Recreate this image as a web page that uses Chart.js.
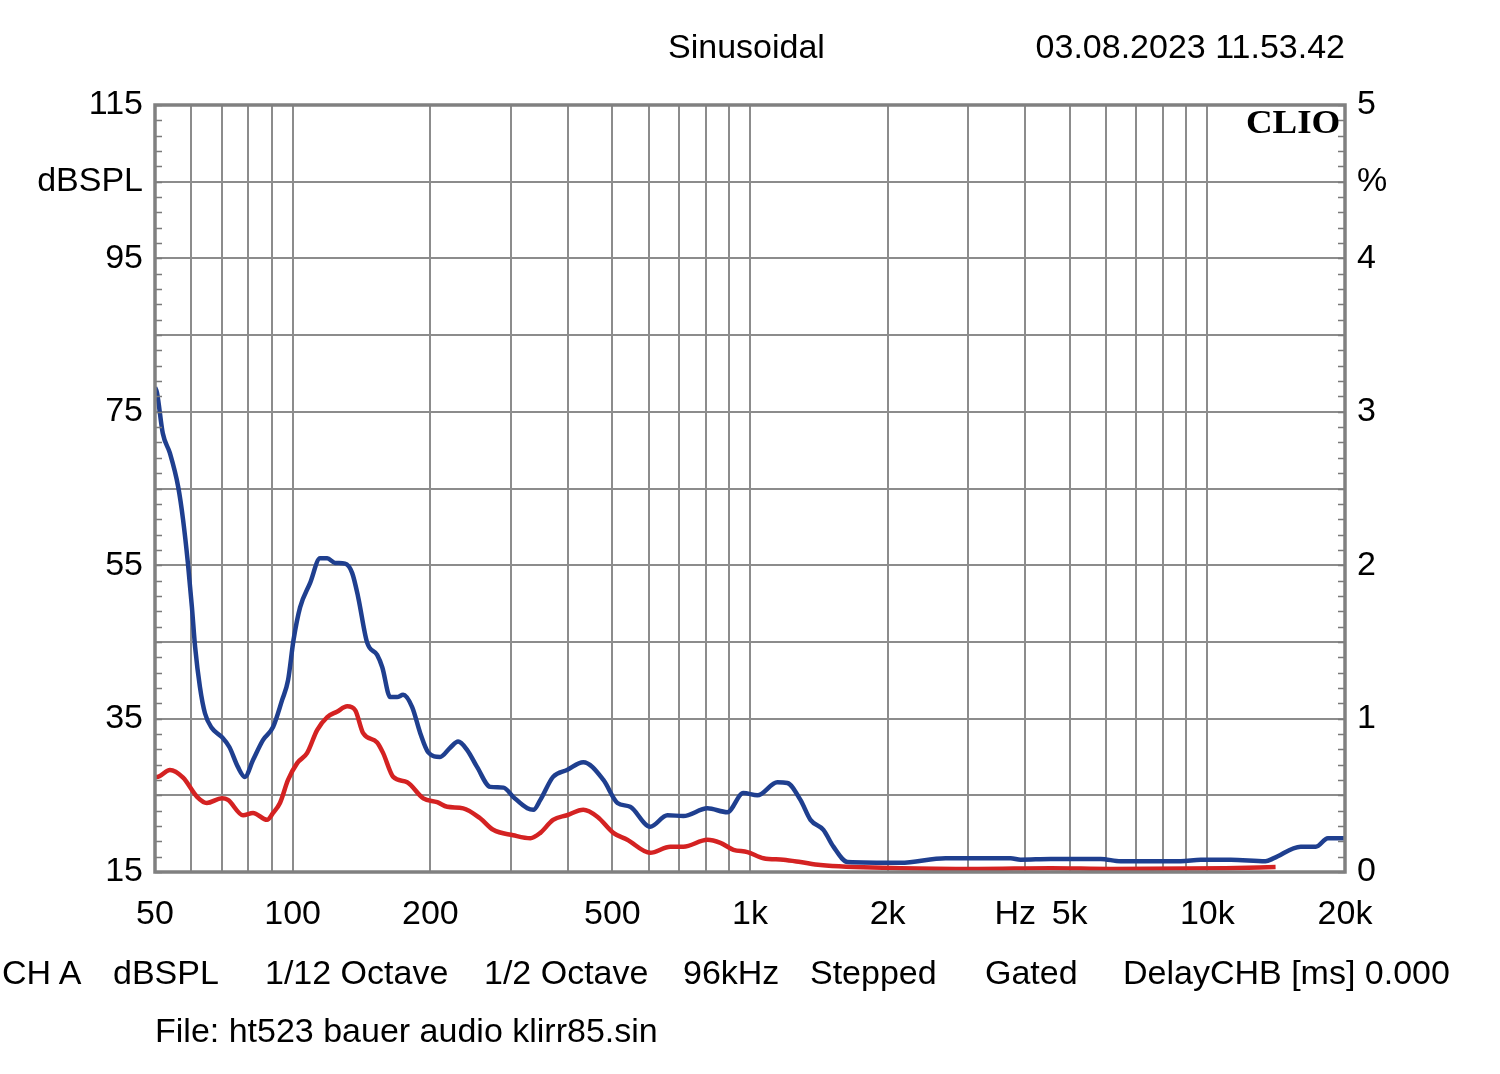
<!DOCTYPE html>
<html>
<head>
<meta charset="utf-8">
<script src="https://cdn.jsdelivr.net/npm/chart.js@4/dist/chart.umd.min.js"></script>
<style>
  html, body { margin:0; padding:0; background:#fff; }
  #wrap { position:relative; width:1500px; height:1074px; overflow:hidden; }
  #c { position:absolute; left:0; top:0; }
  .t { position:absolute; font-family:"Liberation Sans", Arial, sans-serif; font-size:34px; line-height:34px; color:#000; white-space:nowrap; }
  #clio { position:absolute; right:160px; top:106px; font-family:"Liberation Serif", "DejaVu Serif", serif; font-weight:bold; font-size:33px; line-height:33px; color:#000; transform:scaleX(1.12); transform-origin:right center; }
</style>
</head>
<body>
<div id="wrap">
  <canvas id="c" width="1500" height="1074"></canvas>
  <div class="t" style="left:668px; top:29px;">Sinusoidal</div>
  <div class="t" style="right:155px; top:29px;">03.08.2023 11.53.42</div>
  <div id="clio">CLIO</div>
  <div class="t" style="left:2px; top:955px;">CH A</div>
  <div class="t" style="left:113px; top:955px;">dBSPL</div>
  <div class="t" style="left:265px; top:955px;">1/12 Octave</div>
  <div class="t" style="left:484px; top:955px;">1/2 Octave</div>
  <div class="t" style="left:683px; top:955px;">96kHz</div>
  <div class="t" style="left:810px; top:955px;">Stepped</div>
  <div class="t" style="left:985px; top:955px;">Gated</div>
  <div class="t" style="left:1123px; top:955px;">DelayCHB [ms] 0.000</div>
  <div class="t" style="left:155px; top:1013px;">File: ht523 bauer audio klirr85.sin</div>
</div>
<script>
// ---- Data ----
const blueFreq = [50, 50.5, 52.0, 53.9, 56.2, 57.6, 59.0, 60.2, 61.2, 62.7, 64.3, 66.5, 70.0, 72.7, 75.9, 78.6, 81.9, 86.1, 90.6, 94.8, 97.7, 100.4, 103.8, 109.2, 114.8, 119, 123.8, 130.2, 134.9, 139, 145.5, 153, 157, 163.4, 169.2, 174.4, 182.5, 190.1, 197.9, 210, 221, 230, 240.8, 253, 270.4, 289, 303.5, 326, 336, 348, 371, 398, 432, 478, 513, 547, 605, 660, 715, 807, 892, 967, 1038, 1148, 1207, 1289, 1356, 1447, 1522, 1634, 2133, 2677, 3715, 3906, 4545, 5845, 6464, 8750, 9676, 11250, 13400, 13975, 16000, 17270, 18350, 20000];
const blueDb   = [78.2, 77.5, 72.2, 69.6, 65.2, 60.9, 55.3, 49.6, 44.3, 39.1, 35.7, 33.8, 32.6, 31.3, 28.7, 27.4, 29.6, 32.2, 33.9, 37.4, 40.0, 45.2, 49.5, 52.7, 55.9, 55.9, 55.3, 55.2, 54.0, 50.9, 44.9, 43.3, 41.7, 37.8, 37.8, 38.1, 36.5, 33.1, 30.6, 30.0, 31.2, 32.0, 30.9, 28.7, 26.1, 26.0, 24.8, 23.3, 23.1, 24.4, 27.4, 28.3, 29.3, 27.0, 24.0, 23.5, 20.9, 22.4, 22.3, 23.3, 22.8, 25.3, 25.0, 26.7, 26.6, 24.4, 21.8, 20.5, 18.3, 16.3, 16.2, 16.8, 16.8, 16.6, 16.7, 16.7, 16.4, 16.4, 16.6, 16.6, 16.4, 16.8, 18.3, 18.3, 19.4, 19.4];

const redFreq = [50, 50.5, 53.9, 57.6, 61.8, 64.9, 70.0, 72.2, 77.9, 81.9, 87.9, 90.6, 93.8, 97.7, 102.3, 107.5, 113.1, 119, 125, 131.6, 137, 142.6, 153, 157.7, 165.9, 178, 193, 207, 217.7, 236, 257, 274.5, 303.5, 331, 348, 371, 398, 432, 463.6, 502.5, 539, 605, 669.6, 715, 807, 861.6, 920, 987, 1070, 1183, 1289, 1426, 2133, 3145, 4545, 6147, 10970, 14100];
const redDb   = [27.4, 27.4, 28.3, 27.3, 24.8, 24.0, 24.6, 24.4, 22.4, 22.7, 21.8, 22.7, 24.0, 27.0, 29.2, 30.5, 33.5, 35.2, 35.9, 36.6, 36.1, 33.1, 31.9, 30.5, 27.4, 26.7, 24.6, 24.1, 23.5, 23.3, 22.0, 20.5, 19.8, 19.4, 20.1, 21.8, 22.4, 23.1, 22.2, 20.1, 19.2, 17.5, 18.3, 18.3, 19.2, 18.8, 17.9, 17.6, 16.8, 16.6, 16.3, 15.9, 15.5, 15.4, 15.5, 15.4, 15.5, 15.65];

const xGridValues = [50, 60, 70, 80, 90, 100, 200, 300, 400, 500, 600, 700, 800, 900, 1000, 2000, 3000, 3800, 4000, 5000, 6000, 7000, 8000, 9000, 10000, 20000];
const xTickLabels = {50:'50', 100:'100', 200:'200', 500:'500', 1000:'1k', 2000:'2k', 3800:'Hz', 5000:'5k', 10000:'10k', 20000:'20k'};
const xLabelOnly = [3800];
const leftTickValues = [15, 25, 35, 45, 55, 65, 75, 85, 95, 105, 115];
const leftTickLabels = {115:'115', 105:'dBSPL', 95:'95', 75:'75', 55:'55', 35:'35', 15:'15'};
const rightTickValues = [0, 1, 2, 3, 4, 4.5, 5];
const rightTickLabels = {5:'5', 4.5:'%', 4:'4', 3:'3', 2:'2', 1:'1', 0:'0'};

const bluePoints = blueFreq.map((f, i) => ({x: f, y: blueDb[i]}));
const redPoints = redFreq.map((f, i) => ({x: f, y: redDb[i]}));

const tickFont = {family: '"Liberation Sans", Arial, sans-serif', size: 34};
const gridColor = '#8c8c8c';

const framePlugin = {
  id: 'frame',
  afterDatasetsDraw(chart) {
    const {ctx, chartArea: a, scales} = chart;
    const y = scales.y;
    ctx.save();
    ctx.strokeStyle = '#7a7a7a';
    ctx.lineWidth = 1.5;
    for (let v = 15; v <= 115; v += 2) {
      const py = Math.round(y.getPixelForValue(v)) + 0.5;
      ctx.beginPath();
      ctx.moveTo(a.left, py); ctx.lineTo(a.left + 7, py);
      ctx.moveTo(a.right, py); ctx.lineTo(a.right - 7, py);
      ctx.stroke();
    }
    ctx.strokeStyle = '#808080';
    ctx.lineWidth = 3.5;
    ctx.strokeRect(a.left, a.top, a.right - a.left, a.bottom - a.top);
    ctx.restore();
  }
};

new Chart(document.getElementById('c'), {
  type: 'line',
  data: {
    datasets: [
      {label: 'Blue', data: bluePoints, borderColor: '#1f3f8f', borderWidth: 4.5, pointRadius: 0, cubicInterpolationMode: 'monotone', yAxisID: 'y'},
      {label: 'Red', data: redPoints, borderColor: '#d42222', borderWidth: 4.5, pointRadius: 0, cubicInterpolationMode: 'monotone', yAxisID: 'y'}
    ]
  },
  options: {
    responsive: false,
    animation: false,
    layout: {padding: {left: 0, right: 55, top: 105, bottom: 142}},
    plugins: {legend: {display: false}, tooltip: {enabled: false}},
    scales: {
      x: {
        type: 'logarithmic', min: 50, max: 20000,
        afterBuildTicks: s => { s.ticks = xGridValues.map(v => ({value: v})); },
        afterFit: s => { s.height = 60; },
        ticks: {autoSkip: false, maxRotation: 0, minRotation: 0, padding: 22, color: '#000', font: tickFont,
          callback: v => xTickLabels[v] !== undefined ? xTickLabels[v] : ''},
        grid: {drawTicks: false, lineWidth: 2,
          color: c => (c.tick && xLabelOnly.includes(c.tick.value)) ? 'rgba(0,0,0,0)' : gridColor},
        border: {display: false}
      },
      y: {
        position: 'left', min: 15, max: 115,
        afterBuildTicks: s => { s.ticks = leftTickValues.map(v => ({value: v})); },
        afterFit: s => { s.width = 155; },
        ticks: {autoSkip: false, padding: 12, color: '#000', font: tickFont,
          callback: v => leftTickLabels[v] !== undefined ? leftTickLabels[v] : ''},
        grid: {drawTicks: false, lineWidth: 2, color: gridColor},
        border: {display: false}
      },
      y2: {
        position: 'right', min: 0, max: 5,
        afterBuildTicks: s => { s.ticks = rightTickValues.map(v => ({value: v})); },
        afterFit: s => { s.width = 100; },
        ticks: {autoSkip: false, padding: 12, color: '#000', font: tickFont,
          callback: v => rightTickLabels[v] !== undefined ? rightTickLabels[v] : ''},
        grid: {display: false, drawTicks: false},
        border: {display: false}
      }
    }
  },
  plugins: [framePlugin]
});
</script>
</body>
</html>
